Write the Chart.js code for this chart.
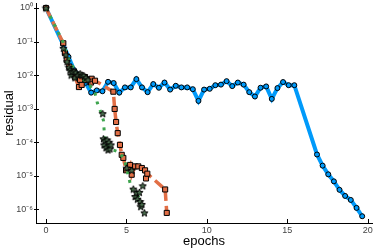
<!DOCTYPE html>
<html><head><meta charset="utf-8">
<script src="https://cdn.jsdelivr.net/npm/chart.js@4.4.0/dist/chart.umd.min.js"></script>
<style>html,body{margin:0;padding:0;background:#fff;overflow:hidden}</style>
</head><body>
<canvas id="c" width="374" height="249"></canvas>
<script>
// ---- data ----
const blueX = [0,1.05,1.40,1.76,2.11,2.46,2.81,3.16,3.51,3.86,4.21,4.56,4.91,5.27,5.62,5.97,6.32,6.67,7.02,7.37,7.72,8.07,8.42,8.78,9.13,9.48,9.83,10.18,10.53,10.88,11.23,11.58,11.93,12.29,12.64,12.99,13.34,13.69,14.04,14.39,14.74,15.09,15.44,16.85,17.20,17.55,17.90,18.25,18.60,18.95,19.31,19.66];
const blueY = [1,8.5e-2,3.5e-2,1.4e-2,8.9e-3,5.9e-3,3.0e-3,3.5e-3,3.3e-3,6.3e-3,5.8e-3,3.0e-3,4.3e-3,4.3e-3,7.6e-3,4.3e-3,3.1e-3,5.4e-3,4.2e-3,6.0e-3,3.7e-3,4.8e-3,4.3e-3,4.3e-3,3.8e-3,1.7e-3,3.7e-3,3.9e-3,5.0e-3,5.2e-3,6.6e-3,4.7e-3,6.0e-3,5.2e-3,3.1e-3,2.3e-3,4.2e-3,4.6e-3,1.95e-3,4.1e-3,6.2e-3,5.0e-3,5.0e-3,4.3e-5,2.0e-5,1.1e-5,6.8e-6,3.8e-6,2.5e-6,1.9e-6,1.1e-6,6.2e-7];

const orangeX = [0,1.08,1.18,1.29,1.45,1.70,1.80,2.05,2.12,2.22,2.43,2.53,2.80,2.84,3.05,4.19,4.27,4.36,4.46,4.60,4.71,4.81,4.98,5.12,5.23,5.33,5.54,5.74,5.96,6.16,6.22,6.30,7.41,7.51];
const orangeY = [1,8.9e-2,4.5e-2,2.8e-2,1.8e-2,1.26e-2,8.7e-3,4.4e-3,7.2e-3,5.1e-3,8.7e-3,7.2e-3,6.0e-3,7.8e-3,6.8e-3,3.2e-3,9.8e-4,4.0e-4,1.86e-4,8.3e-5,4.2e-5,3.4e-5,1.45e-5,1.7e-5,2.1e-5,1.07e-5,1.9e-5,1.9e-5,1.7e-5,1.45e-5,8.3e-6,1.15e-5,3.9e-6,7.8e-7];

const greenX = [0,1.06,1.37,1.80,2.24,2.61,2.74,3.05,3.19,3.40,3.57,3.61,3.67,3.88,4.50,4.87,5.23,5.43,5.74,6.02];
const greenY = [1,9.8e-2,3.2e-2,1.4e-2,8.3e-3,5.5e-3,4.8e-3,2.9e-3,1.5e-3,8.1e-4,4.5e-4,2.5e-4,1.3e-4,6.6e-5,5.2e-5,3.2e-5,6.0e-6,3.1e-6,2.4e-6,1.2e-6];

const starX = [0,1.08,1.24,1.31,1.43,1.49,1.56,1.62,1.74,1.80,1.87,1.99,2.12,2.24,2.36,2.49,2.61,3.53,3.57,3.61,3.67,3.73,3.80,3.86,3.92,3.98,4.04,5.02,5.33,5.43,5.54,5.64,5.68,5.81,5.85,5.89,5.96,6.02,6.12];
const starY = [1,6.3e-2,4.0e-2,2.5e-2,1.7e-2,1.4e-2,1.0e-2,1.26e-2,1.26e-2,8.3e-3,1.17e-2,1.0e-2,1.1e-2,1.0e-2,9.5e-3,8.3e-3,7.2e-3,7.1e-4,1.26e-4,8.3e-5,1.1e-4,6.8e-5,1.17e-4,5.9e-5,1.0e-4,6.3e-5,8.3e-5,1.7e-5,1.45e-5,4.0e-6,2.4e-6,3.1e-6,2.0e-6,3.2e-6,1.7e-6,1.2e-6,1.4e-6,5.0e-6,7.8e-7];

const xTickValues = [0,5,10,15,20];
const yTickValues = [1e-6,1e-5,1e-4,1e-3,1e-2,1e-1,1];
const yTickLabels = ['10⁻⁶','10⁻⁵','10⁻⁴','10⁻³','10⁻²','10⁻¹','10⁰'];
const xTitle = 'epochs';
const yTitle = 'residual';

// ---- styling helpers ----
function pts(xs, ys){ return xs.map((x,i)=>({x:x, y:ys[i]})); }
function starImage(){
  const c = document.createElement('canvas'); c.width = 9; c.height = 9;
  const g = c.getContext('2d');
  g.beginPath();
  for (let i=0;i<10;i++){
    const r = i%2===0 ? 3.8 : 1.6;
    const a = -Math.PI/2 + i*Math.PI/5;
    const px = 4.5 + r*Math.cos(a), py = 4.8 + r*Math.sin(a);
    if(i===0) g.moveTo(px,py); else g.lineTo(px,py);
  }
  g.closePath();
  g.fillStyle = '#4a6e4e'; g.fill();
  g.lineWidth = 1; g.strokeStyle = '#000'; g.stroke();
  return c;
}

const innerTicks = {
  id:'innerTicks',
  afterDraw(chart){
    const ctx = chart.ctx, xs = chart.scales.x, ys = chart.scales.y;
    const area = chart.chartArea;
    ctx.save(); ctx.strokeStyle = '#000'; ctx.lineWidth = 1;
    xTickValues.forEach(v=>{
      const px = Math.round(xs.getPixelForValue(v))+0.5;
      ctx.beginPath(); ctx.moveTo(px, area.bottom); ctx.lineTo(px, area.bottom-4); ctx.stroke();
    });
    yTickValues.forEach(v=>{
      const py = Math.round(ys.getPixelForValue(v))+0.5;
      ctx.beginPath(); ctx.moveTo(area.left-2, py); ctx.lineTo(area.left+3, py); ctx.stroke();
    });
    ctx.restore();
  }
};

Chart.defaults.font.family = "'Liberation Sans', Arial, sans-serif";

new Chart(document.getElementById('c'), {
  type: 'scatter',
  data: { datasets: [
    { data: pts(blueX, blueY), showLine: true, borderColor: '#009AFA', borderWidth: 4,
      pointRadius: 2.5, pointBackgroundColor: '#009AFA', pointBorderColor: '#000', pointBorderWidth: 1, order: 4 },
    { data: pts(orangeX, orangeY), showLine: true, borderColor: '#E26F46', borderWidth: 3.5, borderDash: [10,5],
      pointStyle: 'rect', pointRadius: 3.6, pointBackgroundColor: '#E26F46', pointBorderColor: '#000', pointBorderWidth: 1, order: 3 },
    { data: pts(greenX, greenY), showLine: true, borderColor: '#3EA44E', borderWidth: 3, borderDash: [3,6],
      borderCapStyle: 'butt', pointRadius: 0, order: 2 },
    { data: pts(starX, starY), showLine: false, pointStyle: starImage(), pointRadius: 4, order: 1 }
  ]},
  options: {
    responsive: false, animation: false, events: [],
    layout: { autoPadding: false, padding: { top: 3, right: 2, left: 0, bottom: 0 } },
    plugins: { legend: { display: false }, tooltip: { enabled: false } },
    scales: {
      x: {
        type: 'linear', min: -0.62, max: 20.27,
        grid: { display: false, drawTicks: false, tickLength: 0 },
        border: { display: true, color: '#000', width: 1 },
        afterBuildTicks(s){ s.ticks = xTickValues.map(v=>({value:v})); },
        afterFit(s){ s.height = 26; s.paddingLeft = 0; s.paddingRight = 0; },
        ticks: { font: { size: 9 }, color: '#444', padding: 2, maxRotation: 0, callback: v => String(v) },
        title: { display: true, text: xTitle, font: { size: 13 }, color: '#000', padding: { top: 0, bottom: 0 } }
      },
      y: {
        type: 'logarithmic', min: 3.9e-7, max: 1.41,
        grid: { display: false, drawTicks: false, tickLength: 0 },
        border: { display: true, color: '#000', width: 1 },
        afterBuildTicks(s){ s.ticks = yTickValues.map(v=>({value:v})); },
        afterFit(s){ s.width = 36; s.paddingTop = 0; s.paddingBottom = 0; },
        ticks: { font: { size: 9 }, color: '#444', padding: 3,
          callback: (v) => { const i = yTickValues.findIndex(t => Math.abs(Math.log10(t)-Math.log10(v))<1e-6); return i>=0 ? yTickLabels[i] : ''; } },
        title: { display: true, text: yTitle, font: { size: 13 }, color: '#000', padding: { top: 2, bottom: 0 } }
      }
    }
  },
  plugins: [innerTicks]
});
</script>
</body></html>
